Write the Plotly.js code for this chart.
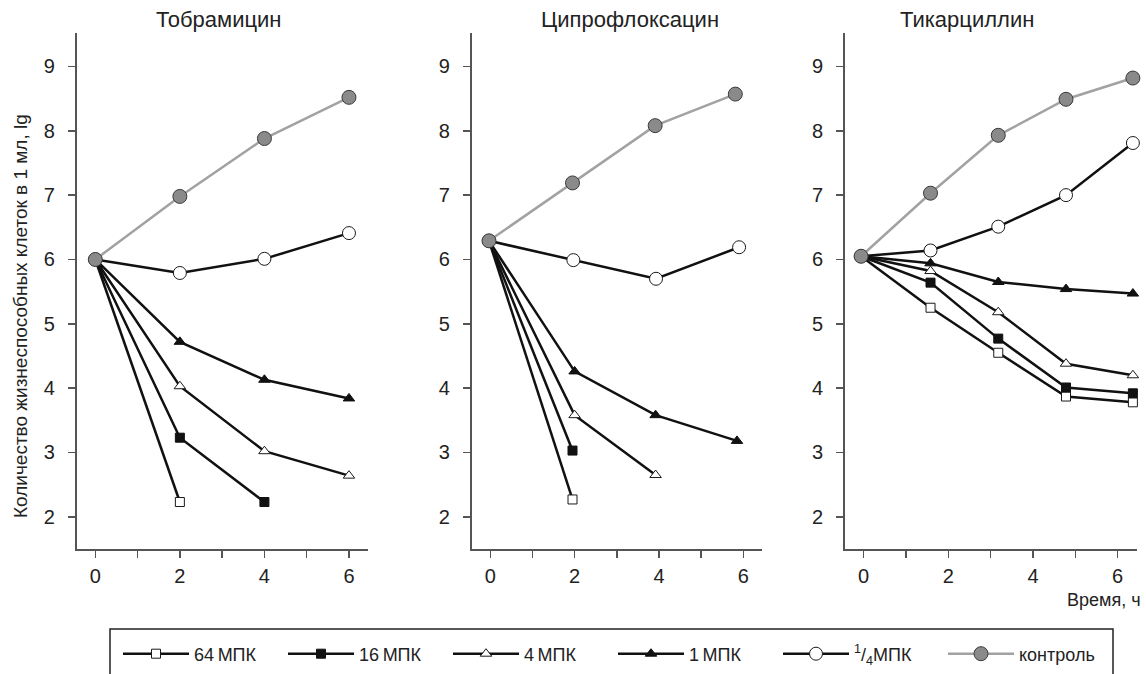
<!DOCTYPE html>
<html><head><meta charset="utf-8">
<script src="https://cdn.plot.ly/plotly-3.0.1.min.js"></script>
<style>html,body{margin:0;padding:0;background:#fff}</style>
</head><body><div id="chart" style="width:1146px;height:674px"></div>
<script>
// ---------- DATA ----------
const panelTitles = ['Тобрамицин', 'Ципрофлоксацин', 'Тикарциллин'];
const seriesNames = ['64\u2009МПК', '16\u2009МПК', '4\u2009МПК', '1\u2009МПК', '<sup>1</sup>/<sub>4</sub>МПК', 'контроль'];
const yTitle = 'Количество жизнеспособных клеток в 1 мл, lg';
const xTitle = 'Время, ч';

// Тобрамицин (time, h)
const tobTime = [0, 2, 4, 6];
const tob64 = [6.00, 2.23];
const tob16 = [6.00, 3.23, 2.23];
const tob4 = [6.00, 4.03, 3.02, 2.64];
const tob1 = [6.00, 4.72, 4.13, 3.84];
const tobQuarter = [6.00, 5.79, 6.01, 6.41];
const tobControl = [6.00, 6.98, 7.88, 8.52];

// Ципрофлоксацин
const ciproTime64 = [-0.03, 1.95];
const ciproTime16 = [-0.03, 1.95];
const ciproTime4 = [-0.03, 2.00, 3.92];
const ciproTime1 = [-0.03, 2.00, 3.92, 5.85];
const ciproTimeQuarter = [-0.03, 1.97, 3.93, 5.90];
const ciproTimeControl = [-0.03, 1.95, 3.91, 5.81];
const cipro64 = [6.29, 2.27];
const cipro16 = [6.29, 3.03];
const cipro4 = [6.29, 3.58, 2.65];
const cipro1 = [6.29, 4.26, 3.58, 3.18];
const ciproQuarter = [6.29, 5.99, 5.70, 6.19];
const ciproControl = [6.29, 7.19, 8.08, 8.57];

// Тикарциллин
const ticTime = [-0.06, 1.58, 3.18, 4.78, 6.36];
const tic64 = [6.05, 5.25, 4.55, 3.87, 3.78];
const tic16 = [6.05, 5.64, 4.77, 4.01, 3.92];
const tic4 = [6.05, 5.82, 5.18, 4.38, 4.20];
const tic1 = [6.05, 5.94, 5.65, 5.54, 5.47];
const ticQuarter = [6.05, 6.14, 6.51, 7.00, 7.81];
const ticControl = [6.05, 7.03, 7.93, 8.49, 8.82];

const xTickVals = [0, 2, 4, 6];
const yTickVals = [2, 3, 4, 5, 6, 7, 8, 9];

// ---------- STYLE ----------
const styles = [
  {symbol: 'square', size: 9, fill: '#ffffff', lineColor: '#1a1a1a'},
  {symbol: 'square', size: 9, fill: '#111111', lineColor: '#111111'},
  {symbol: 'triangle-up', size: 10, fill: '#ffffff', lineColor: '#1a1a1a'},
  {symbol: 'triangle-up', size: 10, fill: '#111111', lineColor: '#111111'},
  {symbol: 'circle', size: 13, fill: '#ffffff', lineColor: '#1a1a1a'},
  {symbol: 'circle', size: 14, fill: '#8a8a8a', lineColor: '#3a3a3a', trace: '#a2a2a2'}
];

const panels = [
  {xs: [tobTime, tobTime, tobTime, tobTime, tobTime, tobTime],
   ys: [tob64, tob16, tob4, tob1, tobQuarter, tobControl]},
  {xs: [ciproTime64, ciproTime16, ciproTime4, ciproTime1, ciproTimeQuarter, ciproTimeControl],
   ys: [cipro64, cipro16, cipro4, cipro1, ciproQuarter, ciproControl]},
  {xs: [ticTime, ticTime, ticTime, ticTime, ticTime, ticTime],
   ys: [tic64, tic16, tic4, tic1, ticQuarter, ticControl]}
];

const W = 1146, H = 674;
const px = v => v / W;
const py = v => 1 - v / H;

const traces = [];
panels.forEach((p, pi) => {
  const ax = pi === 0 ? '' : String(pi + 1);
  p.ys.forEach((yv, si) => {
    const st = styles[si];
    traces.push({
      type: 'scatter', mode: 'lines+markers',
      x: p.xs[si].slice(0, yv.length), y: yv,
      xaxis: 'x' + ax, yaxis: 'y' + ax,
      name: seriesNames[si],
      showlegend: pi === 0,
      line: {color: st.trace || '#111111', width: 2.5},
      marker: {symbol: st.symbol, size: st.size, color: st.fill,
               line: {color: st.lineColor, width: 1}},
      cliponaxis: false,
      hoverinfo: 'skip'
    });
  });
});

const axisCommon = {
  showline: true, linecolor: '#555555', linewidth: 1.8,
  ticks: 'outside', ticklen: 7, tickcolor: '#555555', tickwidth: 1.5,
  showgrid: false, zeroline: false, automargin: false,
  tickfont: {family: 'Liberation Sans, Arial, sans-serif', size: 20, color: '#222222'},
  fixedrange: true
};
const xDomains = [[px(76.7), px(368)], [px(471.7), px(762.3)], [px(845), px(1136.7)]];
const yDomain = [py(549), py(33)];

const layout = {
  width: W, height: H,
  margin: {l: 0, r: 0, t: 0, b: 0, autoexpand: false},
  paper_bgcolor: '#ffffff', plot_bgcolor: 'rgba(0,0,0,0)',
  font: {family: 'Liberation Sans, Arial, sans-serif', color: '#222222'},
  showlegend: true,
  legend: {
    orientation: 'h', x: px(118), xanchor: 'left', y: py(654), yanchor: 'middle',
    entrywidth: 84, entrywidthmode: 'pixels', itemwidth: 66,
    font: {size: 18, color: '#222222'},
    bgcolor: 'rgba(0,0,0,0)', borderwidth: 0, traceorder: 'normal'
  },
  shapes: [{
    type: 'rect', xref: 'paper', yref: 'paper',
    x0: px(110), x1: px(1113), y0: py(629), y1: -0.05,
    line: {color: '#222222', width: 1.5}, fillcolor: 'rgba(0,0,0,0)'
  }],
  annotations: [],
  hovermode: false
};

[0, 1, 2].forEach(i => {
  const ax = i === 0 ? '' : String(i + 1);
  layout['xaxis' + ax] = Object.assign({}, axisCommon, {
    domain: xDomains[i], range: [-0.44, 6.45], anchor: 'y' + ax,
    tickvals: xTickVals, ticklabelstandoff: 1,
    minor: {dtick: 1, tick0: 0, ticks: 'outside', ticklen: 7, tickcolor: '#555555', tickwidth: 1.5}
  });
  layout['yaxis' + ax] = Object.assign({}, axisCommon, {
    domain: yDomain, range: [1.5, 9.52], anchor: 'x' + ax,
    tickvals: yTickVals, ticklabelstandoff: 9
  });
});

const titleX = [218, 630, 967];
panelTitles.forEach((t, i) => {
  layout.annotations.push({
    text: t, xref: 'paper', yref: 'paper', x: px(titleX[i]), y: py(19),
    xanchor: 'center', yanchor: 'middle', showarrow: false,
    font: {size: 22, color: '#222222'}
  });
});
layout.annotations.push({
  text: yTitle, xref: 'paper', yref: 'paper', x: px(20), y: py(316),
  xanchor: 'center', yanchor: 'middle', textangle: -90, showarrow: false,
  font: {size: 19, color: '#222222'}
});
layout.annotations.push({
  text: xTitle, xref: 'paper', yref: 'paper', x: px(1143), y: py(600),
  xanchor: 'right', yanchor: 'middle', showarrow: false,
  font: {size: 18, color: '#222222'}
});

Plotly.newPlot('chart', traces, layout, {staticPlot: true, displayModeBar: false});
</script>
</body></html>
